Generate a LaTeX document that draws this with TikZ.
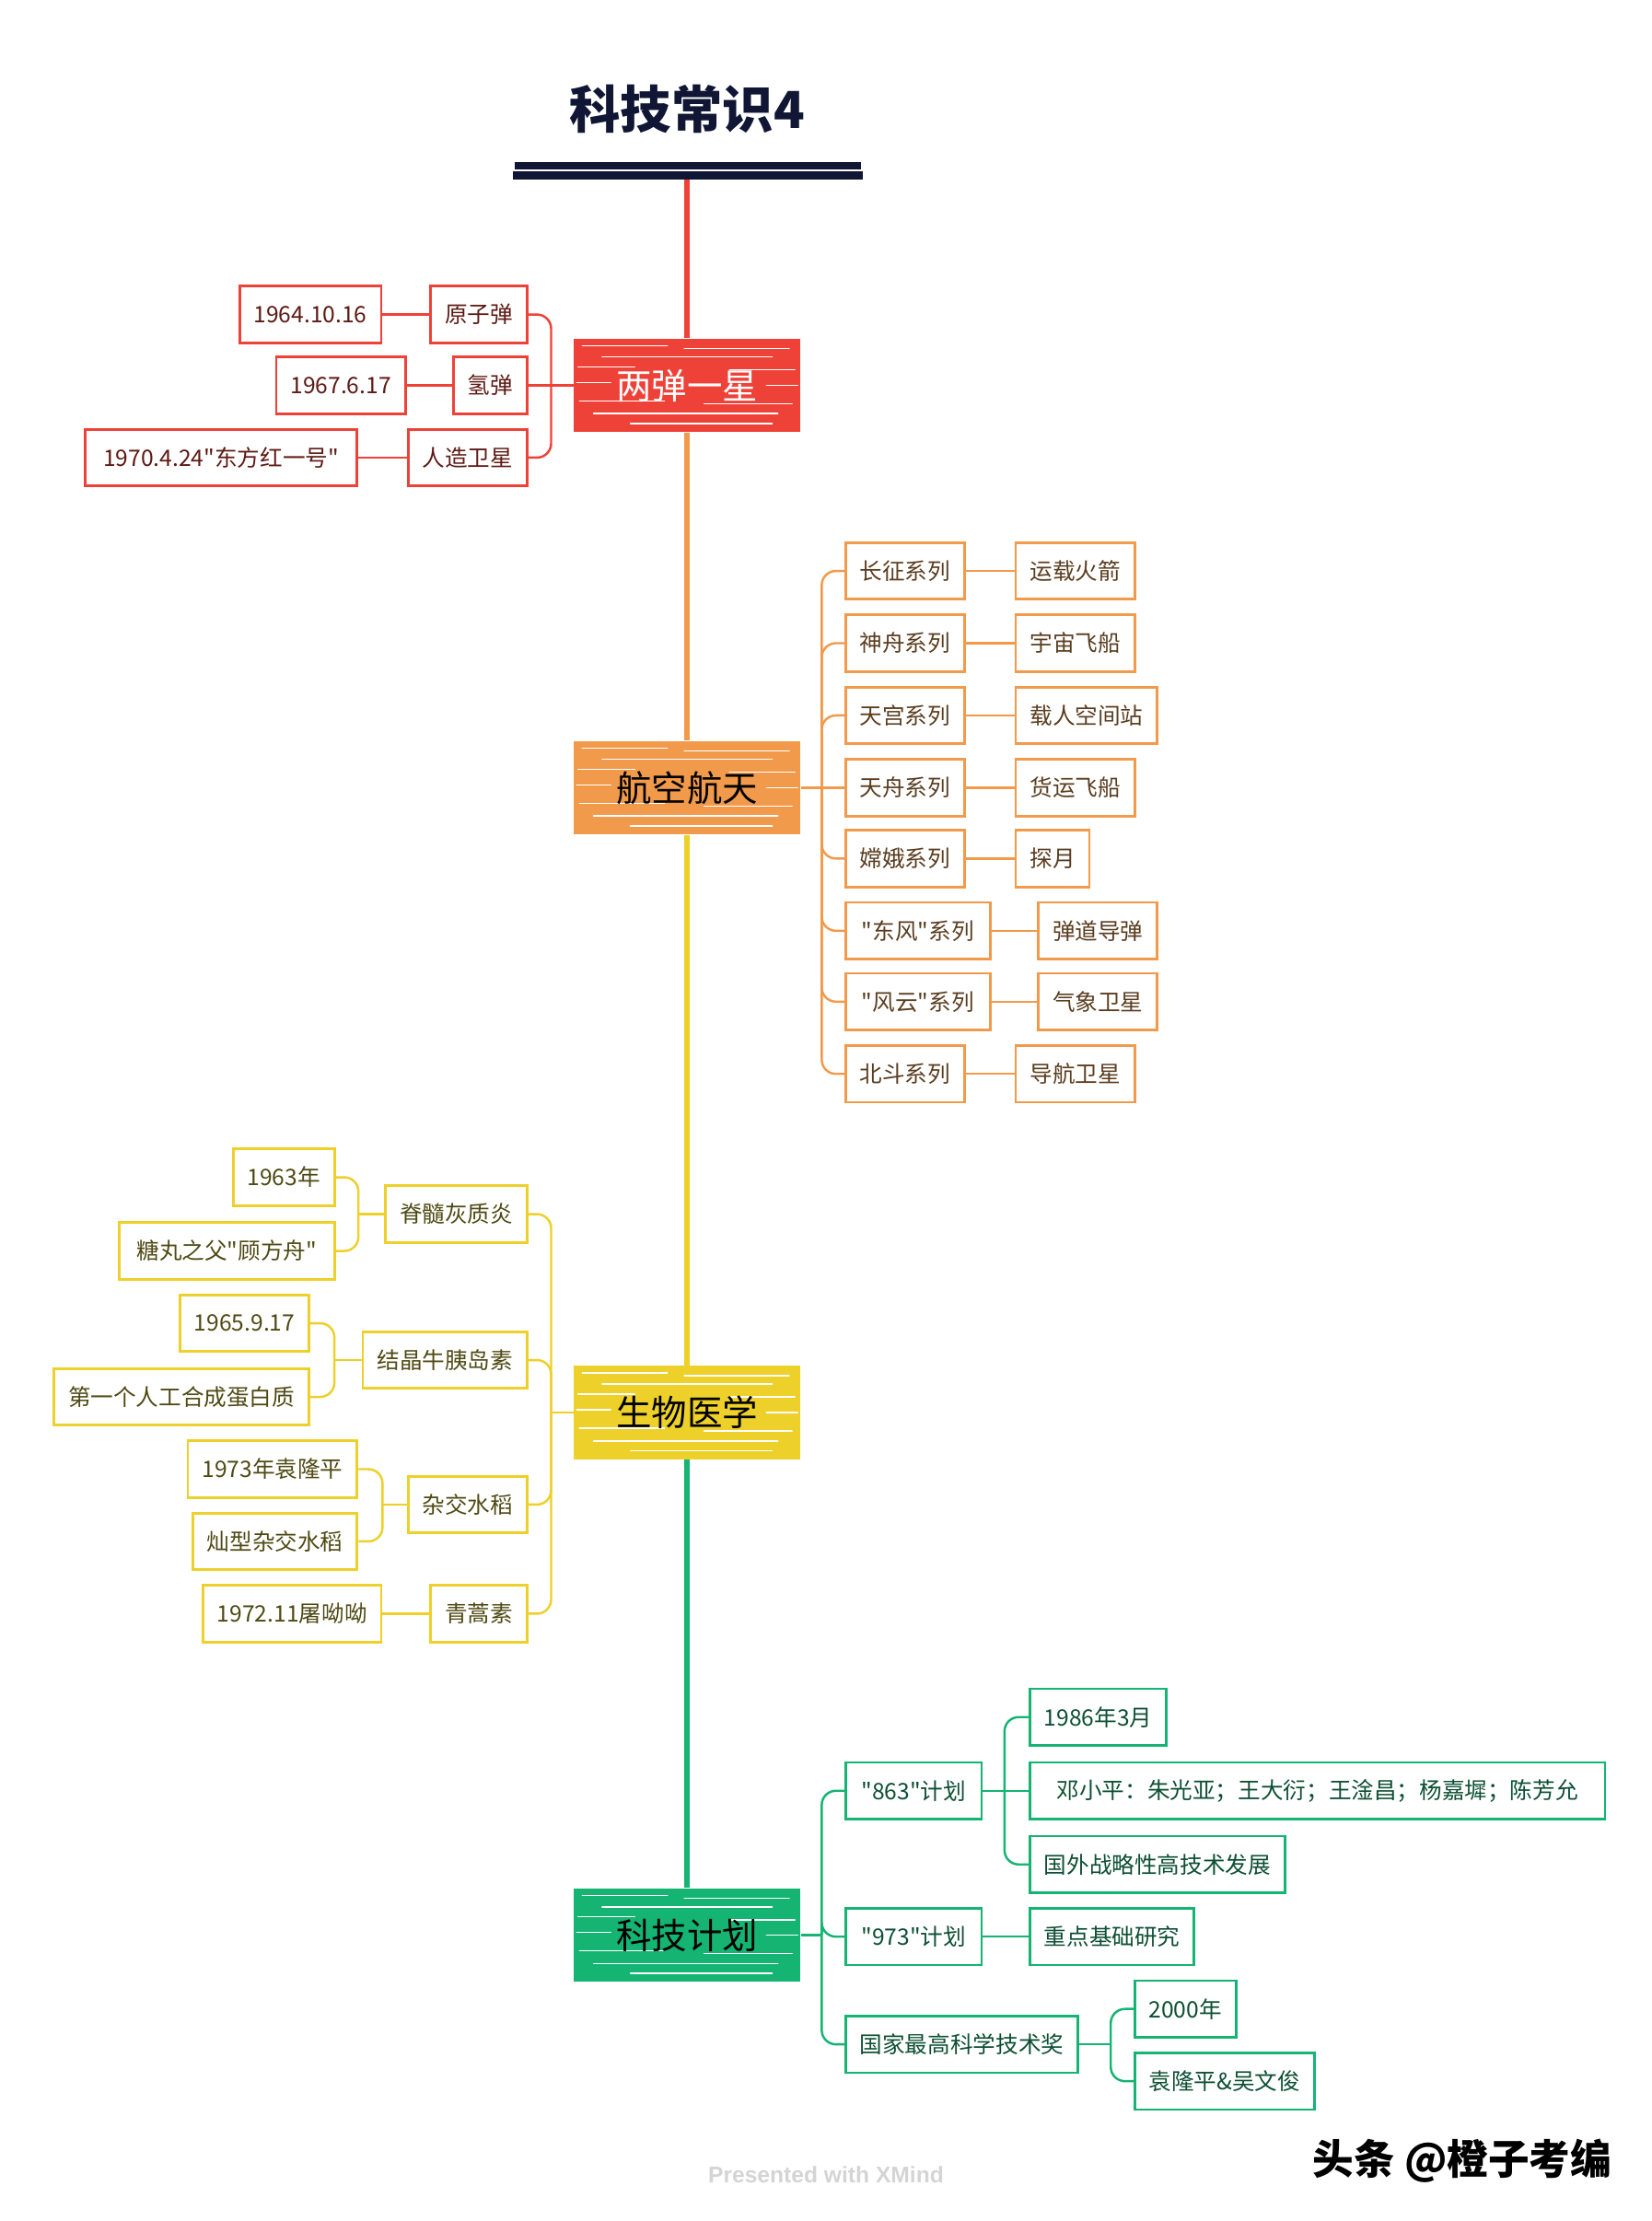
\documentclass[tikz,border=0pt]{standalone}
\usepackage{fontspec}
\setmainfont{Noto Sans CJK SC}[Ligatures=TeXOff]
\newfontfamily\xmfont{Liberation Sans}
\usepackage{tikz}
\usetikzlibrary{calc}
\definecolor{navy}{HTML}{101633}
\definecolor{lzred}{HTML}{EE4239}
\definecolor{lztext}{HTML}{5E1A14}
\definecolor{hkorange}{HTML}{F29A4B}
\definecolor{hktext}{HTML}{5A3D1F}
\definecolor{swyellow}{HTML}{EDD02A}
\definecolor{swtext}{HTML}{4F4A14}
\definecolor{kjgreen}{HTML}{15B473}
\definecolor{kjtext}{HTML}{0D4F35}
\definecolor{xmgray}{HTML}{D4D4D4}

\begin{document}
\begin{tikzpicture}[x=0.5pt,y=-0.5pt,
  mainbox/.style={minimum width=80pt, minimum height=33pt,
    font=\fontsize{12.5}{14}\selectfont,
    path picture={
      \foreach \a/\b/\l in {6/5/60, 78/7/74, 20/13/120, 3/20/40, 110/22/46,
                            2/31/24, 136/33/22, 4/44/60, 92/46/62, 14/53/130, 40/60/100}
        \draw[white, line width=0.5pt, line cap=round]
          ($(path picture bounding box.north west)+(\a,\b)$) -- ++(\l,0);
    }},
  leaf/.style={draw, line width=0.9pt, fill=white, minimum height=20pt,
    inner xsep=5pt, font=\fontsize{8}{10}\selectfont},
  redleaf/.style={leaf, draw=lzred, text=lztext},
  orangeleaf/.style={leaf, draw=hkorange, text=hktext},
  yellowleaf/.style={leaf, draw=swyellow, text=swtext},
  greenleaf/.style={leaf, draw=kjgreen, text=kjtext},
  link/.style={line width=0.8pt, rounded corners=5pt},
  trunk/.style={line width=1.8pt}]
\tikzstyle{every node}+=[inner sep=0pt]
\useasboundingbox (0,0) rectangle (1166,1567.7);

% title
\node[font=\fontsize{18}{20}\selectfont\bfseries, text=navy] (title) at (485,77) {科技常识4};
\draw[navy, line width=2.5pt] (363,117) -- (608,117);
\draw[navy, line width=3pt] (362,124) -- (609,124);
\coordinate (root) at (485,127);

% main branches
\node[mainbox, fill=lzred, text=white] (ldyx) at (485,272) {两弹一星};
\node[mainbox, fill=hkorange] (hkht) at (485,556) {航空航天};
\node[mainbox, fill=swyellow] (swyx) at (485,997) {生物医学};
\node[mainbox, fill=kjgreen] (kjjh) at (485,1366) {科技计划};
\draw[trunk, lzred] (root) -- (ldyx.north);
\draw[trunk, hkorange] (ldyx.south) -- (hkht.north);
\draw[trunk, swyellow] (hkht.south) -- (swyx.north);
\draw[trunk, kjgreen] (swyx.south) -- (kjjh.north);

% 两弹一星
\node[redleaf, anchor=east] (yzd) at (373,222) {原子弹};
\node[redleaf, anchor=east] (yzdt) at (270,222) {1964.10.16};
\node[redleaf, anchor=east] (qd) at (373,272) {氢弹};
\node[redleaf, anchor=east] (qdt) at (287,272) {1967.6.17};
\node[redleaf, anchor=east] (rzwx) at (373,323) {人造卫星};
\node[redleaf, anchor=east, minimum width=96pt] (rzwxt) at (253,323) {1970.4.24"东方红一号"};
\coordinate (ldyxb) at (389,272);
\draw[link, lzred] (ldyx.west) -- (ldyxb);
\draw[link, lzred] (ldyxb) |- (yzd.east);
\draw[link, lzred] (ldyxb) -- (qd.east);
\draw[link, lzred] (ldyxb) |- (rzwx.east);
\draw[link, lzred] (yzd.west) -- (yzdt.east);
\draw[link, lzred] (qd.west) -- (qdt.east);
\draw[link, lzred] (rzwx.west) -- (rzwxt.east);

% 航空航天
\node[orangeleaf, anchor=west] (cz) at (596,403) {长征系列};
\node[orangeleaf, anchor=west] (yzhj) at (716,403) {运载火箭};
\node[orangeleaf, anchor=west] (sz) at (596,454) {神舟系列};
\node[orangeleaf, anchor=west] (yzfc) at (716,454) {宇宙飞船};
\node[orangeleaf, anchor=west] (tg) at (596,505) {天宫系列};
\node[orangeleaf, anchor=west] (zrkjz) at (716,505) {载人空间站};
\node[orangeleaf, anchor=west] (tz) at (596,556) {天舟系列};
\node[orangeleaf, anchor=west] (hyfc) at (716,556) {货运飞船};
\node[orangeleaf, anchor=west] (ce) at (596,606) {嫦娥系列};
\node[orangeleaf, anchor=west] (ty) at (716,606) {探月};
\node[orangeleaf, anchor=west, minimum width=51pt] (df) at (596,657) {"东风"系列};
\node[orangeleaf, anchor=west] (dddd) at (732,657) {弹道导弹};
\node[orangeleaf, anchor=west, minimum width=51pt] (fy) at (596,707) {"风云"系列};
\node[orangeleaf, anchor=west] (qxwx) at (732,707) {气象卫星};
\node[orangeleaf, anchor=west] (bd) at (596,758) {北斗系列};
\node[orangeleaf, anchor=west] (dhwx) at (716,758) {导航卫星};
\coordinate (hkhtb) at (580,556);
\draw[link, hkorange] (hkht.east) -- (hkhtb);
\draw[link, hkorange] (hkhtb) |- (cz.west);
\draw[link, hkorange] (hkhtb) |- (sz.west);
\draw[link, hkorange] (hkhtb) |- (tg.west);
\draw[link, hkorange] (hkhtb) -- (tz.west);
\draw[link, hkorange] (hkhtb) |- (ce.west);
\draw[link, hkorange] (hkhtb) |- (df.west);
\draw[link, hkorange] (hkhtb) |- (fy.west);
\draw[link, hkorange] (hkhtb) |- (bd.west);
\draw[link, hkorange] (cz.east) -- (yzhj.west);
\draw[link, hkorange] (sz.east) -- (yzfc.west);
\draw[link, hkorange] (tg.east) -- (zrkjz.west);
\draw[link, hkorange] (tz.east) -- (hyfc.west);
\draw[link, hkorange] (ce.east) -- (ty.west);
\draw[link, hkorange] (df.east) -- (dddd.west);
\draw[link, hkorange] (fy.east) -- (qxwx.west);
\draw[link, hkorange] (bd.east) -- (dhwx.west);

% 生物医学
\node[yellowleaf, anchor=east] (jsh) at (373,857) {脊髓灰质炎};
\node[yellowleaf, anchor=east] (jsha) at (237,831) {1963年};
\node[yellowleaf, anchor=east, minimum width=76pt] (jshb) at (237,883) {糖丸之父"顾方舟"};
\node[yellowleaf, anchor=east] (jj) at (373,960) {结晶牛胰岛素};
\node[yellowleaf, anchor=east] (jja) at (219,934) {1965.9.17};
\node[yellowleaf, anchor=east] (jjb) at (219,986) {第一个人工合成蛋白质};
\node[yellowleaf, anchor=east] (zjsd) at (373,1062) {杂交水稻};
\node[yellowleaf, anchor=east] (zjsda) at (253,1037) {1973年袁隆平};
\node[yellowleaf, anchor=east] (zjsdb) at (253,1088) {灿型杂交水稻};
\node[yellowleaf, anchor=east] (qhs) at (373,1139) {青蒿素};
\node[yellowleaf, anchor=east] (qhsa) at (270,1139) {1972.11屠呦呦};
\coordinate (swyxb) at (389,997);
\coordinate (jshb0) at (253,857);
\coordinate (jjb0) at (236,960);
\coordinate (zjsdb0) at (270,1062);
\draw[link, swyellow] (swyx.west) -- (swyxb);
\draw[link, swyellow] (swyxb) |- (jsh.east);
\draw[link, swyellow] (swyxb) |- (jj.east);
\draw[link, swyellow] (swyxb) |- (zjsd.east);
\draw[link, swyellow] (swyxb) |- (qhs.east);
\draw[link, swyellow] (jsh.west) -- (jshb0);
\draw[link, swyellow] (jshb0) |- (jsha.east);
\draw[link, swyellow] (jshb0) |- (jshb.east);
\draw[link, swyellow] (jj.west) -- (jjb0);
\draw[link, swyellow] (jjb0) |- (jja.east);
\draw[link, swyellow] (jjb0) |- (jjb.east);
\draw[link, swyellow] (zjsd.west) -- (zjsdb0);
\draw[link, swyellow] (zjsdb0) |- (zjsda.east);
\draw[link, swyellow] (zjsdb0) |- (zjsdb.east);
\draw[link, swyellow] (qhs.west) -- (qhsa.east);

% 科技计划
\node[greenleaf, anchor=west, minimum width=48pt] (jh863) at (596,1264) {"863"计划};
\node[greenleaf, anchor=west] (jh863a) at (726,1212) {1986年3月};
\node[greenleaf, anchor=west, minimum width=203pt] (jh863b) at (726,1264) {邓小平：朱光亚；王大衍；王淦昌；杨嘉墀；陈芳允};
\node[greenleaf, anchor=west] (jh863c) at (726,1316) {国外战略性高技术发展};
\node[greenleaf, anchor=west, minimum width=48pt] (jh973) at (596,1367) {"973"计划};
\node[greenleaf, anchor=west] (jh973a) at (726,1367) {重点基础研究};
\node[greenleaf, anchor=west] (gjj) at (596,1443) {国家最高科学技术奖};
\node[greenleaf, anchor=west] (gjja) at (800,1418) {2000年};
\node[greenleaf, anchor=west] (gjjb) at (800,1469) {袁隆平\&吴文俊};
\coordinate (kjjhb) at (580,1366);
\coordinate (jh863b0) at (709,1264);
\coordinate (gjjb0) at (784,1443);
\draw[link, kjgreen] (kjjh.east) -- (kjjhb);
\draw[link, kjgreen] (kjjhb) |- (jh863.west);
\draw[link, kjgreen] (kjjhb) |- (jh973.west);
\draw[link, kjgreen] (kjjhb) |- (gjj.west);
\draw[link, kjgreen] (jh863.east) -- (jh863b0);
\draw[link, kjgreen] (jh863b0) |- (jh863a.west);
\draw[link, kjgreen] (jh863b0) -- (jh863b.west);
\draw[link, kjgreen] (jh863b0) |- (jh863c.west);
\draw[link, kjgreen] (jh973.east) -- (jh973a.west);
\draw[link, kjgreen] (gjj.east) -- (gjjb0);
\draw[link, kjgreen] (gjjb0) |- (gjja.west);
\draw[link, kjgreen] (gjjb0) |- (gjjb.west);

% footer
\node[font=\xmfont\bfseries\fontsize{8}{10}\selectfont, text=xmgray] (xmind) at (583,1535) {Presented with XMind};
\node[font=\fontsize{14.5}{17}\selectfont\bfseries] (mark) at (1032,1525) {头条 @橙子考编};
\end{tikzpicture}
\end{document}
